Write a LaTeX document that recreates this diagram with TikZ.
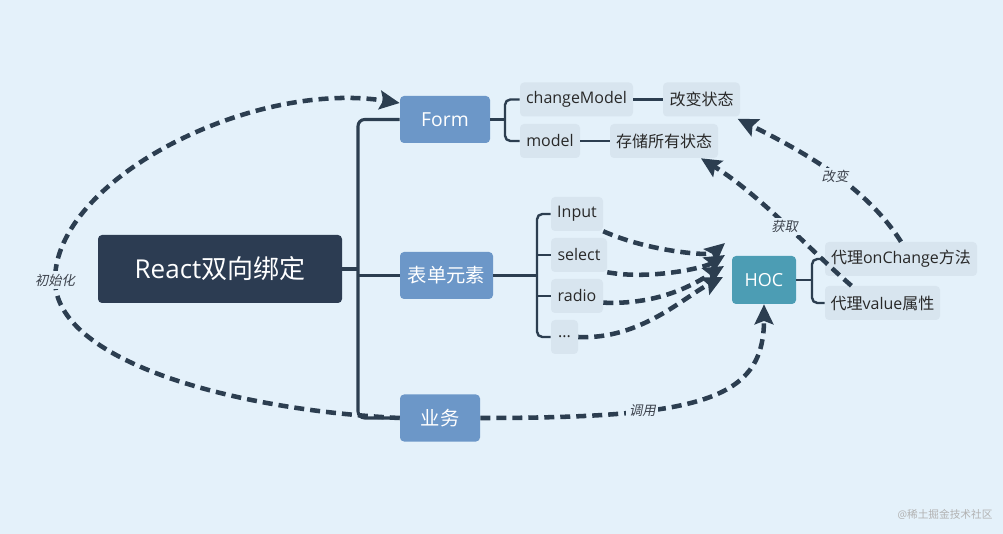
\documentclass[tikz,border=0pt]{standalone}
\usepackage{fontspec}
\setmainfont{Open Sans}
\newfontfamily\cjk{Noto Sans CJK SC}
\newfontfamily\cjkit[FakeSlant=0.2]{Noto Sans CJK SC}
\usetikzlibrary{arrows.meta}
\definecolor{bgc}{RGB}{228,241,250}
\definecolor{leafc}{RGB}{216,229,239}
\definecolor{rootc}{RGB}{44,60,82}
\definecolor{formc}{RGB}{108,151,200}
\definecolor{hocc}{RGB}{76,157,180}
\definecolor{linec}{RGB}{44,62,80}
\definecolor{leaftext}{RGB}{40,40,40}
\definecolor{labeltext}{RGB}{60,66,76}
\tikzset{
  rootbox/.style={fill=rootc, text=white, rounded corners=3pt, inner sep=0pt,
    minimum width=183pt, minimum height=51pt, font=\fontsize{19.5}{23}\selectfont},
  mainbox/.style={fill=formc, text=white, rounded corners=3pt, inner sep=0pt,
    minimum height=35.25pt, font=\fontsize{14.5}{17}\selectfont},
  leafbox/.style={fill=leafc, text=leaftext, rounded corners=3pt, inner sep=0pt,
    minimum height=25.5pt, font=\fontsize{12}{14}\selectfont},
  trunk/.style={draw=linec, line width=2.3pt, rounded corners=5pt},
  twig/.style={draw=linec, line width=1.8pt, rounded corners=4pt},
  flow/.style={draw=linec, line width=3.4pt, dash pattern=on 7.5pt off 4.5pt,
    -{Stealth[length=15pt, width=14pt, inset=2.5pt]}},
  flowlabel/.style={fill=bgc, inner sep=2pt, text=labeltext,
    font={\cjkit\fontsize{10}{12}\selectfont}}
}
\begin{document}
\begin{tikzpicture}[x=0.75pt, y=-0.75pt]
\useasboundingbox (0,0) rectangle (1003,534);
\fill[bgc] (0,0) rectangle (1003,534);

% main nodes
\node[rootbox] (root) at (220,269) {React{\cjk 双向绑定}};
\node[mainbox, minimum width=67.5pt] (form) at (445,119.5) {Form};
\node[mainbox, minimum width=69.75pt] (biaodan) at (446.5,275.5) {\cjk 表单元素};
\node[mainbox, minimum width=60pt] (yewu) at (440,418) {\cjk 业务};

% Form
\node[leafbox, minimum width=84.75pt] (cmodel) at (576.5,99.5) {changeModel};
\node[leafbox, minimum width=57.75pt] (gaibian) at (701.5,99.5) {\cjk 改变状态};
\node[leafbox, minimum width=45pt] (model) at (550,141) {model};
\node[leafbox, minimum width=81pt] (cunchu) at (664,141) {\cjk 存储所有状态};

% form elements
\node[leafbox, minimum width=39pt] (input) at (577,214) {Input};
\node[leafbox, minimum width=42pt] (select) at (579,255) {select};
\node[leafbox, minimum width=39pt] (radio) at (577,296) {radio};
\node[leafbox, minimum width=20.25pt] (dots) at (564.5,337) {...};

% HOC
\node[mainbox, fill=hocc, minimum width=48pt, minimum height=36pt,
  font=\fontsize{13.5}{16}\selectfont] (hoc) at (764,280) {HOC};
\node[leafbox, minimum width=114pt] (onchange) at (901,259) {{\cjk 代理}onChange{\cjk 方法}};
\node[leafbox, minimum width=86.25pt] (valueattr) at (882.5,303) {{\cjk 代理}value{\cjk 属性}};

% branches
\coordinate (tk) at (358,0);
\coordinate (fk) at (505,0);
\coordinate (bk) at (537,0);
\coordinate (hk) at (812,0);
\draw[trunk] (form.west) -| (tk |- yewu.west) -- (yewu.west);
\draw[trunk] (root.east) -- (root.east -| tk);
\draw[trunk] (biaodan.west -| tk) -- (biaodan.west);

\draw[twig] (form.east) -- (form.east -| fk);
\draw[twig] (cmodel.west) -| (fk |- model.west) -- (model.west);
\draw[twig] (cmodel.east) -- (gaibian.west);
\draw[twig] (model.east) -- (cunchu.west);

\draw[twig] (biaodan.east) -- (biaodan.east -| bk);
\draw[twig] (input.west) -| (bk |- dots.west) -- (dots.west);
\draw[twig] (select.west) -- (select.west -| bk);
\draw[twig] (radio.west) -- (radio.west -| bk);

\draw[twig] (hoc.east) -- (hoc.east -| hk);
\draw[twig] (onchange.west) -| (hk |- valueattr.west) -- (valueattr.west);

% dashed flows
\coordinate (h1) at (725,243);
\coordinate (h2) at (725,255);
\coordinate (h3) at (724,266);
\coordinate (h4) at (723,277);
\draw[flow] (input.south east) .. controls (650,252) and (710,256) .. (h1);
\draw[flow] (select.south east) .. controls (650,280) and (704,268) .. (h2);
\draw[flow] ([yshift=-5pt]radio.east) .. controls (660,305) and (694,284) .. (h3);
\draw[flow] (dots.east) .. controls (640,340) and (684,297) .. (h4);

\draw[flow] (yewu.west) .. controls (230,410) and (55,360) .. (55,280)
  node[flowlabel] (chushi) {初始化}
  .. controls (55,180) and (250,80) .. (form.160);
\draw[flow] (yewu.east) .. controls (700,418) and (764,400) .. (hoc.south)
  node[flowlabel, pos=0.31] (diaoyong) {调用};
\draw[flow] (onchange.north) .. controls (865,185) and (800,150)
  .. ([xshift=-2pt, yshift=-1.5pt]gaibian.south east)
  node[flowlabel, pos=0.45, xshift=-2pt] (gaibianlbl) {改变};
\draw[flow] ([xshift=20pt]valueattr.north west) .. controls (810,250) and (760,195)
  .. ([xshift=-13pt]cunchu.south east)
  node[flowlabel, pos=0.47, xshift=-2pt] (huoqu) {获取};

\node[text=black!30, font={\fontsize{8}{10}\selectfont}] (wm) at (945,514) {@{\cjk 稀土掘金技术社区}};
\end{tikzpicture}
\end{document}
